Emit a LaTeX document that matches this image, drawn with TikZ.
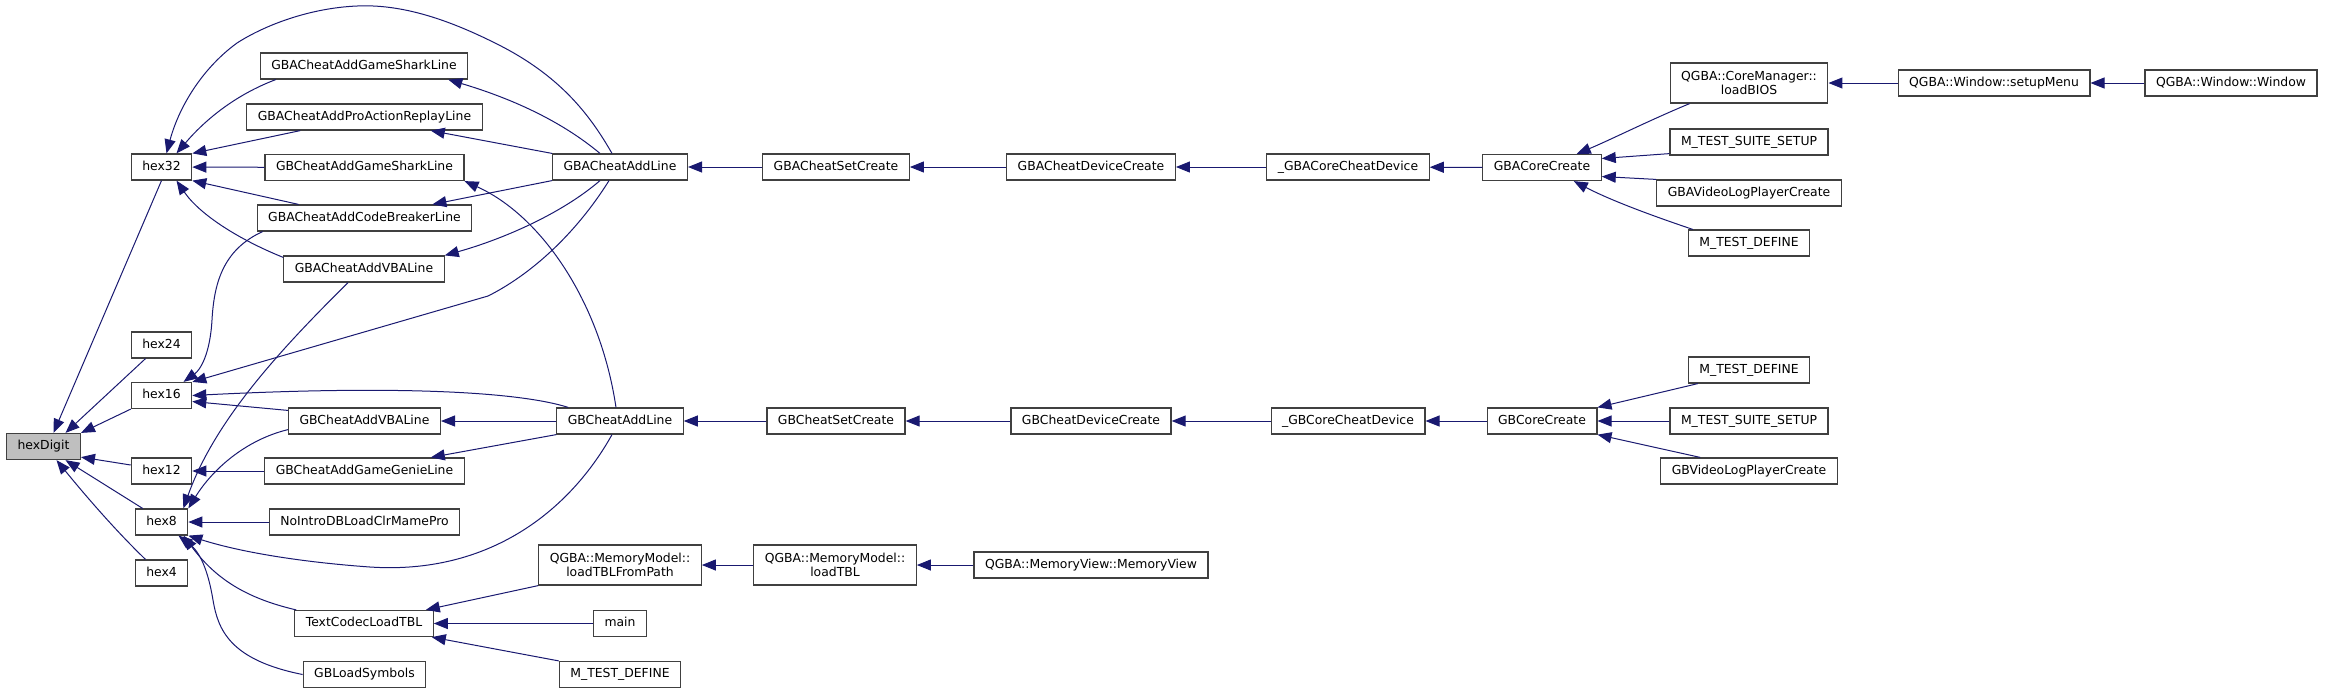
\documentclass[tikz,border=0pt]{standalone}
\usepackage{fontspec}
\setmainfont{DejaVu Sans}
\usetikzlibrary{arrows.meta,calc}
\definecolor{calledge}{RGB}{25,25,112}
\definecolor{boxline}{RGB}{64,64,64}
\definecolor{rootfill}{RGB}{191,191,191}

\begin{document}
\begin{tikzpicture}[
    x=0.5pt,
    y=-0.5pt,
    fn box/.style={
      draw=boxline,
      fill=white,
      line width=0.6pt,
      inner xsep=5.5pt,
      inner ysep=0pt,
      font=\fontsize{6.2}{7.2}\selectfont
    },
    fn/.style={
      fn box,
      minimum height=13pt,
      text height=4.7pt,
      text depth=1.3pt
    },
    fn wide/.style={
      fn box,
      align=center,
      minimum height=20pt
    },
    root/.style={
      fill=rootfill
    },
    call/.style={
      calledge,
      line width=0.5pt,
      -{Triangle[length=7pt,width=5.5pt]}
    }
]
\useasboundingbox (0,0) rectangle (2327,693);

% Root and the hex helpers.
\node[fn,root] (hexDigit) at (43.5,446.5) {hexDigit};
\node[fn] (hex32) at (161.5,167) {hex32};
\node[fn] (hex24) at (161.5,345) {hex24};
\node[fn] (hex16) at (161.5,395.5) {hex16};
\node[fn] (hex12) at (161.5,471) {hex12};
\node[fn] (hex8) at (161.5,522) {hex8};
\node[fn] (hex4) at (161.5,573) {hex4};

% Third column.
\node[fn] (gbaSharkLine) at (364,66) {GBACheatAddGameSharkLine};
\node[fn] (gbaParLine) at (364.5,117) {GBACheatAddProActionReplayLine};
\node[fn] (gbSharkLine) at (364.5,167.5) {GBCheatAddGameSharkLine};
\node[fn] (gbaCbLine) at (364.5,218) {GBACheatAddCodeBreakerLine};
\node[fn] (gbaVbaLine) at (364,269) {GBACheatAddVBALine};
\node[fn] (gbVbaLine) at (364.5,421) {GBCheatAddVBALine};
\node[fn] (gbGenieLine) at (364.5,471) {GBCheatAddGameGenieLine};
\node[fn] (noIntro) at (364.5,522) {NoIntroDBLoadClrMamePro};
\node[fn] (textCodec) at (364,623.5) {TextCodecLoadTBL};
\node[fn] (gbSymbols) at (364.5,674.5) {GBLoadSymbols};

% Fourth column.
\node[fn] (gbaAddLine) at (620,167) {GBACheatAddLine};
\node[fn] (gbAddLine) at (620,421) {GBCheatAddLine};
\node[fn wide] (tblFromPath) at (620,565) {QGBA::MemoryModel::\\loadTBLFromPath};
\node[fn] (mainFn) at (620,623.5) {main};
\node[fn] (tblTestDefine) at (620,674.5) {M\_TEST\_DEFINE};

% Set, device and core chains.
\node[fn] (gbaSetCreate) at (836,167) {GBACheatSetCreate};
\node[fn] (gbSetCreate) at (836,421) {GBCheatSetCreate};
\node[fn wide] (loadTbl) at (835,565) {QGBA::MemoryModel::\\loadTBL};
\node[fn] (gbaDevCreate) at (1091,167) {GBACheatDeviceCreate};
\node[fn] (gbDevCreate) at (1091,421) {GBCheatDeviceCreate};
\node[fn] (memView) at (1091,565) {QGBA::MemoryView::MemoryView};
\node[fn] (gbaCoreCheat) at (1348,167) {\_GBACoreCheatDevice};
\node[fn] (gbCoreCheat) at (1348,421) {\_GBCoreCheatDevice};
\node[fn] (gbaCore) at (1542,167.5) {GBACoreCreate};
\node[fn] (gbCore) at (1542,421) {GBCoreCreate};

% Callers of the core constructors.
\node[fn wide] (loadBios) at (1749,83) {QGBA::CoreManager::\\loadBIOS};
\node[fn] (gbaSuite) at (1749,142) {M\_TEST\_SUITE\_SETUP};
\node[fn] (gbaVideoLog) at (1749,193) {GBAVideoLogPlayerCreate};
\node[fn] (gbaTestDefine) at (1749,243) {M\_TEST\_DEFINE};
\node[fn] (gbTestDefine) at (1749,370) {M\_TEST\_DEFINE};
\node[fn] (gbSuite) at (1749,421) {M\_TEST\_SUITE\_SETUP};
\node[fn] (gbVideoLog) at (1749,471) {GBVideoLogPlayerCreate};
\node[fn] (setupMenu) at (1994,83) {QGBA::Window::setupMenu};
\node[fn] (qWindow) at (2231,83) {QGBA::Window::Window};

% Straight horizontal calls.
\foreach \from/\to in {
  gbSharkLine/hex32,
  gbGenieLine/hex12,
  noIntro/hex8,
  gbAddLine/gbVbaLine,
  gbaSetCreate/gbaAddLine,
  gbSetCreate/gbAddLine,
  gbaDevCreate/gbaSetCreate,
  gbDevCreate/gbSetCreate,
  gbaCoreCheat/gbaDevCreate,
  gbCoreCheat/gbDevCreate,
  gbaCore/gbaCoreCheat,
  gbCore/gbCoreCheat,
  gbSuite/gbCore,
  setupMenu/loadBios,
  qWindow/setupMenu,
  mainFn/textCodec,
  loadTbl/tblFromPath,
  memView/loadTbl}{
  \draw[call] (\from) -- (\to);
}

% Into hexDigit.
\draw[call] (hex32.south) -- ($(hexDigit.north)+(10,0)$);
\draw[call] ($(hex24.south)+(-16,0)$) -- ($(hexDigit.north)+(22,0)$);
\draw[call] (hex16.south west) -- (hexDigit.north east);
\draw[call] ($(hex12.west)+(0,-6)$) -- ($(hexDigit.south east)+(0,-3)$);
\draw[call] ($(hex8.north west)+(8,0)$) -- ($(hexDigit.south)+(22,0)$);
\draw[call] ($(hex4.north)+(-16,0)$)
  .. controls (115,530) and (85,495) .. ($(hexDigit.south)+(13,0)$);

% Into hex32.
\draw[call] ($(gbaSharkLine.south west)+(16,0)$)
  .. controls (235,95) and (205,120) .. ($(hex32.north)+(15,0)$);
\draw[call] ($(gbaParLine.south west)+(54,0)$) -- (hex32.north east);
\draw[call] ($(gbaCbLine.north west)+(42,0)$) -- (hex32.south east);
\draw[call] ($(gbaVbaLine.north west)+(0,2)$)
  .. controls (240,240) and (200,215) .. ($(hex32.south)+(15,0)$);
\draw[call] ($(gbaAddLine.north)+(-8,0)$)
  .. controls (590,115) and (560,75) .. (495,43)
  .. controls (445,18) and (400,4) .. (357,6)
  .. controls (310,8) and (265,25) .. (237,43)
  .. controls (200,70) and (178,110) .. ($(hex32.north)+(5,0)$);

% Out of GBACheatAddLine.
\draw[call] ($(gbaAddLine.north)+(-20,0)$)
  .. controls (560,120) and (510,98) .. ($(gbaSharkLine.south east)+(-20,0)$);
\draw[call] (gbaAddLine.north west) -- ($(gbaParLine.south east)+(-52,0)$);
\draw[call] (gbaAddLine.south west) -- ($(gbaCbLine.north east)+(-40,0)$);
\draw[call] ($(gbaAddLine.south)+(-20,0)$)
  .. controls (560,215) and (500,240) .. (gbaVbaLine.north east);
\draw[call] ($(gbaAddLine.south)+(-11,0)$)
  .. controls (575,235) and (530,275) .. (488,296) -- (hex16.north east);

% Into hex16.
\draw[call] ($(gbaCbLine.south west)+(6,0)$)
  .. controls (222,250) and (214,285) .. (212,320)
  .. controls (210,355) and (200,370) .. ($(hex16.north)+(22,0)$);
\draw[call] ($(gbAddLine.north west)+(12,0)$)
  .. controls (520,392) and (400,385) .. (hex16.east);
\draw[call] ($(gbVbaLine.north west)+(0,3)$) -- ($(hex16.east)+(0,6)$);

% Out of GBCheatAddLine.
\draw[call] ($(gbAddLine.north)+(-4,0)$)
  .. controls (600,300) and (540,215) .. (gbSharkLine.south east);
\draw[call] (gbAddLine.south west) -- ($(gbGenieLine.north east)+(-34,0)$);
\draw[call] ($(gbAddLine.south)+(-8,0)$)
  .. controls (570,510) and (490,575) .. (370,567)
  .. controls (300,562) and (240,552) .. (hex8.south east);

% Into hex8.
\draw[call] ($(gbaVbaLine.south)+(-16,0)$)
  .. controls (280,350) and (215,420) .. ($(hex8.north east)+(-5,0)$);
\draw[call] ($(gbVbaLine.south west)+(0,-5)$)
  .. controls (245,440) and (212,470) .. (hex8.north east);
\draw[call] ($(textCodec.north west)+(2,0)$)
  .. controls (245,598) and (215,578) .. ($(hex8.south)+(22,0)$);
\draw[call] (gbSymbols.west)
  .. controls (230,660) and (218,630) .. (213,600)
  .. controls (208,570) and (200,552) .. ($(hex8.south)+(17,0)$);

% Into TextCodecLoadTBL.
\draw[call] (tblFromPath.south west) -- ($(textCodec.north east)+(-8,0)$);
\draw[call] (tblTestDefine.north west) -- ($(textCodec.south east)+(-2,0)$);

% Into the core constructors.
\draw[call] ($(loadBios.south west)+(20,0)$)
  .. controls (1650,120) and (1610,140) .. ($(gbaCore.north east)+(-25,0)$);
\draw[call] ($(gbaSuite.south west)+(0,-2)$) -- ($(gbaCore.east)+(0,-9)$);
\draw[call] (gbaVideoLog.north west) -- ($(gbaCore.east)+(0,9)$);
\draw[call] ($(gbaTestDefine.north west)+(5,0)$)
  .. controls (1650,215) and (1610,200) .. ($(gbaCore.south east)+(-28,0)$);
\draw[call] ($(gbTestDefine.south west)+(10,0)$) -- (gbCore.north east);
\draw[call] ($(gbVideoLog.north west)+(40,0)$) -- (gbCore.south east);

\end{tikzpicture}
\end{document}
